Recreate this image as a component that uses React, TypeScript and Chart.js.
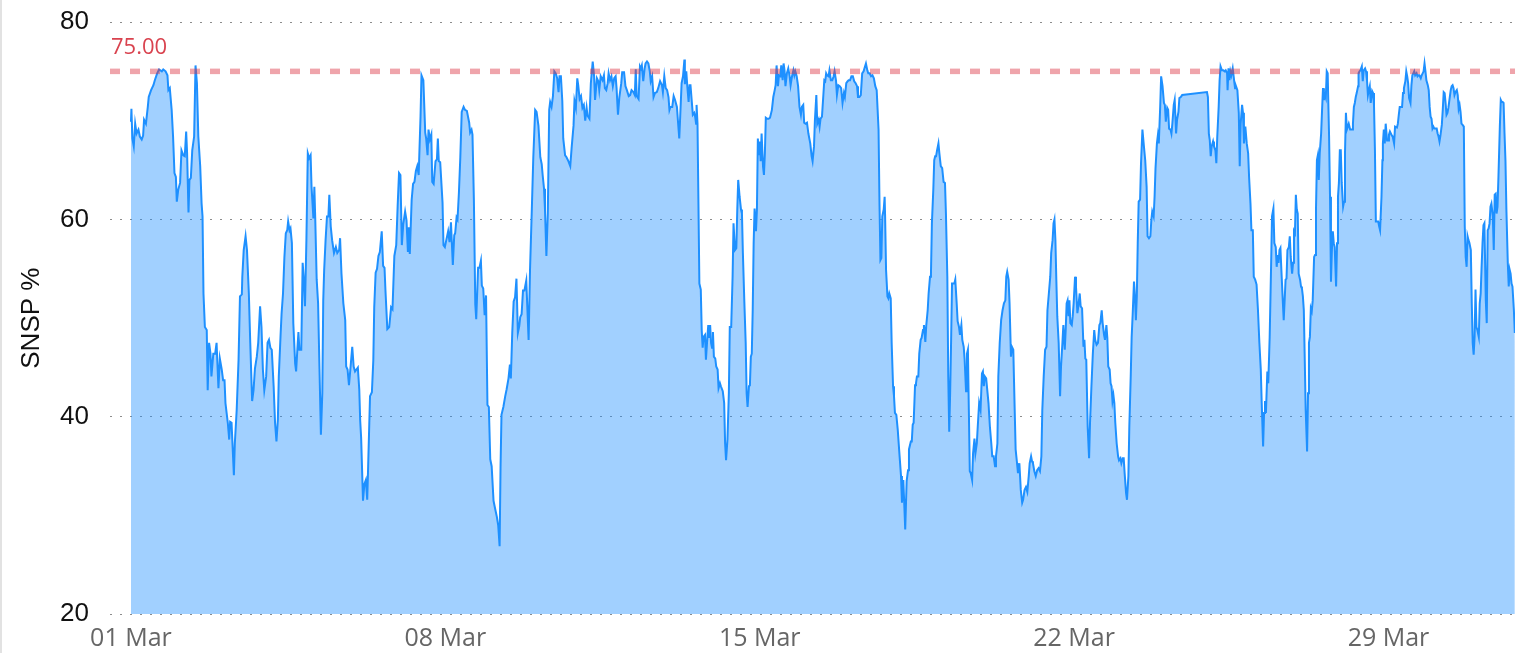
import React, { useEffect, useRef } from 'react';
import { Chart, registerables } from 'chart.js';

Chart.register(...registerables);

// x values are hours since 01 Mar 00:00
const X_MIN_HOURS = -11.2;
const X_MAX_HOURS = 739.6;
const TICK_HOURS = [0, 168, 336, 504, 672];
const TICK_LABELS = ['01 Mar', '08 Mar', '15 Mar', '22 Mar', '29 Mar'];
const Y_MIN = 20;
const Y_MAX = 80;
const Y_STEP = 20;
const THRESHOLD = 75;
const Y_TITLE = 'SNSP %';

// [hour, SNSP %]
const SNSP_READINGS: [number, number][] = [
  [0, 69.9], [0.25, 71.2], [0.75, 68.2], [1.5, 67.4], [2.25, 69.7], [3, 68.7], [4, 69.1], [4.75, 68.4], [5.75, 68.1], [6.5, 68.5],
  [7, 70.1], [8, 69.7], [9, 71.4], [9.5, 72.4], [10.75, 73.1], [12, 73.6], [12.75, 74.1], [14, 74.8], [15, 75.2], [16.5, 75.0],
  [17.25, 75.2], [18.5, 75.0], [19.5, 74.6], [20, 73.1], [20.75, 73.3], [21.75, 71.1], [22.5, 68.4], [23.25, 64.7], [24, 64.3], [24.5, 61.8],
  [25.25, 63.0], [26.25, 63.7], [27, 67.0], [28, 66.5], [28.75, 66.4], [29.5, 68.9], [30, 66.7], [30.75, 60.7], [31.25, 64.0], [32, 64.2],
  [32.75, 67.0], [33.75, 68.4], [34.5, 75.6], [35.25, 73.8], [36, 68.4], [37, 65.4], [37.75, 61.6], [38.25, 60.3], [38.75, 52.5], [39.5, 49.1],
  [40.5, 48.8], [41, 42.7], [41.75, 47.5], [42.5, 46.4], [43, 44.1], [44, 46.4], [45, 46.4], [45.75, 47.5], [46.75, 42.9], [47.5, 45.9],
  [48.5, 44.8], [49.25, 43.7], [50, 43.7], [50.5, 41.4], [51.75, 39.4], [52.5, 37.7], [53, 39.5], [53.75, 39.4], [55, 34.1], [55.5, 37.3],
  [56.5, 40.7], [57.5, 45.8], [58.25, 52.2], [59.25, 52.4], [59.5, 54.2], [60.25, 56.9], [61.25, 58.3], [62, 56.9], [63, 52.5], [63.75, 47.5],
  [64.75, 41.6], [65.5, 42.7], [66.25, 44.9], [67.25, 46.1], [68, 47.5], [69, 51.2], [69.75, 49.1], [70.5, 44.8], [71.25, 42.7], [72.25, 44.1],
  [73, 47.5], [73.75, 47.8], [74.5, 47.0], [75.25, 46.8], [76.25, 43.1], [77, 39.4], [77.75, 37.5], [78.5, 39.7], [79, 44.1], [80, 48.5],
  [80.5, 50.5], [81.25, 52.5], [82, 56.2], [82.75, 58.6], [83.5, 58.9], [84, 59.8], [84.75, 58.9], [85.25, 59.1], [86, 57.6], [86.75, 49.5],
  [87.75, 45.4], [88.25, 44.6], [89, 47.1], [89.5, 48.6], [90, 46.8], [91, 46.8], [91.75, 55.6], [92.25, 54.2], [93, 51.2], [93.75, 57.9],
  [94.5, 66.7], [95.25, 66.2], [96, 66.5], [96.5, 63.3], [97.5, 60.1], [98, 63.3], [98.5, 59.9], [99.25, 53.9], [100, 51.5], [100.75, 44.8],
  [101.5, 38.2], [102.25, 42.4], [102.75, 51.8], [103.25, 54.9], [104, 57.9], [104.75, 60.3], [105.5, 60.3], [106, 62.5], [106.75, 59.3], [107.5, 57.9],
  [108.5, 56.6], [109.5, 57.2], [110.25, 56.6], [111.25, 56.9], [111.75, 58.1], [112.5, 54.5], [113.5, 51.5], [114.5, 49.8], [115, 45.1], [115.75, 44.8],
  [116.5, 43.2], [117.5, 45.4], [118.25, 47.1], [119, 45.1], [119.75, 44.6], [120.5, 44.8],
  [121.25, 45.0], [122, 42.8], [122.5, 39.6], [123, 37.9], [124, 31.5], [124.75, 33.2], [125.5, 33.6], [126.25, 31.6], [126.75, 35.0], [127.75, 42.1],
  [128.75, 42.5], [129.5, 45.7], [130, 51.1], [130.75, 54.6], [131.5, 55.0], [132.25, 56.3], [133, 56.7], [134, 58.8], [134.75, 55.3], [135.5, 55.1],
  [136, 52.8], [137, 48.9], [138, 49.1], [139, 51.1], [139.75, 50.9], [140.75, 56.3], [141.75, 57.4], [142.5, 61.3], [143.25, 64.7], [144, 64.5],
  [144.75, 57.4], [145.5, 59.5], [146.5, 60.8], [147.25, 59.9], [148, 56.7], [148.5, 59.2], [149, 56.5], [150, 62.0], [150.75, 63.6], [151.5, 63.8],
  [152.25, 64.9], [153, 65.4], [153.75, 64.5], [154.75, 70.5], [155.25, 74.6], [156.25, 74.1], [157.25, 68.8], [157.75, 68.2], [158.5, 66.5], [159, 69.1],
  [159.75, 68.1], [160.5, 68.6], [161, 63.8], [161.75, 63.6], [162.75, 65.9], [163.5, 66.1], [164, 68.2], [164.5, 65.9], [165.25, 65.8], [166.5, 61.7],
  [167, 57.4], [167.75, 57.2], [168.5, 57.9], [169.5, 58.8], [170.25, 57.7], [171, 59.7], [172, 55.4], [172.75, 58.4], [173.25, 58.6], [174, 60.2],
  [174.5, 60.0], [175.25, 62.7], [176, 66.3], [176.75, 70.9], [177.75, 71.4], [178.5, 71.1], [179.5, 71.0], [180.75, 69.8], [181.25, 68.8], [182, 69.1],
  [182.5, 68.6], [183.25, 62.0], [184, 51.4], [184.5, 49.9], [185.5, 55.1], [186.25, 55.1], [187, 55.8], [187.5, 53.3], [188.25, 53.0], [189, 50.3],
  [189.75, 52.3], [190.5, 41.2], [191.25, 41.0], [192, 35.7], [192.75, 35.0], [193.75, 31.5], [194.5, 30.8], [195.5, 29.9], [196.25, 29.0], [197, 26.9],
  [197.5, 35.0], [198, 40.2], [199, 41.0], [200, 42.1], [200.75, 42.8], [201.75, 43.9], [202.5, 45.3], [203, 43.9], [203.75, 48.5], [204.5, 51.7],
  [205.25, 52.1], [206, 54.0], [206.75, 48.5], [207.5, 49.2], [208, 50.1], [208.75, 50.4], [209.5, 52.8], [210.25, 52.8], [211.25, 53.8], [212.5, 47.8],
  [213.25, 54.9], [214.25, 61.3], [215, 66.3], [216, 71.1], [216.75, 70.9], [217.75, 69.5], [218.75, 66.3], [219.5, 65.6], [220, 64.5], [220.75, 63.1],
  [221.25, 61.0], [222, 56.3], [222.75, 60.6], [223.5, 71.1], [224, 71.9], [224.75, 71.4], [225.5, 72.5], [226.25, 75.0], [227, 74.8], [227.75, 74.3],
  [228.5, 72.9], [229, 74.5], [229.75, 74.5], [230.5, 72.0], [231, 68.2], [232, 66.5], [232.75, 66.3], [233.75, 65.9], [234.75, 65.4], [235.5, 67.3],
  [236.5, 69.5], [237, 72.0], [237.75, 71.3], [238.5, 74.3], [239, 73.6], [239.75, 72.2], [240.5, 72.5], [241.25, 71.3], [242, 71.6], [242.75, 70.0],
  [243.5, 71.3], [244, 70.5], [245, 70.2],
  [245.75, 73.8], [246.75, 76.0], [247.5, 74.5], [248, 72.1], [249, 74.3], [249.75, 74.0], [250.25, 73.1], [251, 74.5], [252, 74.1], [252.75, 74.6],
  [253.25, 73.3], [254, 73.1], [254.75, 73.8], [255.25, 74.8], [256, 74.1], [256.75, 74.5], [257.5, 73.5], [258.25, 74.3], [259, 74.5], [259.5, 73.3],
  [260.25, 70.6], [261, 72.4], [262, 73.8], [262.5, 74.9], [263.5, 74.9], [264.25, 73.5], [265, 73.1], [266, 72.5], [266.75, 72.6], [267.5, 73.1],
  [268.5, 72.9], [269.25, 72.6], [269.75, 75.2], [270.25, 72.5], [271.25, 72.2], [272, 75.5], [272.5, 75.3], [273, 75.6], [273.75, 74.0], [274.5, 75.3],
  [275, 75.8], [275.75, 76.0], [276.5, 75.8], [277.25, 75.0], [277.75, 74.0], [278.5, 74.5], [279.25, 72.4], [280, 72.8], [281, 72.9], [281.75, 73.3],
  [282.75, 74.0], [283.75, 73.6], [284.25, 72.9], [285, 74.5], [285.75, 73.3], [286.5, 73.1], [287.25, 72.4], [287.75, 71.1], [288.25, 71.4], [289.25, 71.4],
  [290, 72.5], [290.75, 72.1], [291.75, 71.4], [292.25, 70.1], [293, 68.2], [293.5, 70.4], [294.25, 73.8], [295, 74.5], [295.75, 76.2], [296, 73.7],
  [296.75, 75.0], [297.25, 73.6], [298, 71.9], [298.5, 73.6], [299, 73.6], [299.75, 71.8], [300.25, 70.6], [301, 70.8], [301.5, 70.4], [302, 69.7],
  [302.25, 71.6], [302.75, 69.7], [303.25, 61.6], [303.75, 53.5], [304.5, 52.9], [305, 48.8], [305.5, 47.0], [306, 48.1], [306.75, 48.3], [307.25, 45.8],
  [308, 48.0], [308.5, 49.3], [309, 48.0], [309.5, 49.3], [310, 47.5], [310.5, 47.0], [311, 48.6], [311.5, 46.1], [312.25, 45.9], [312.75, 45.1],
  [313.5, 44.8], [314, 42.9], [314.75, 43.4], [315.25, 43.1], [316.25, 42.6], [317, 41.4], [317.5, 37.3], [318, 35.6], [318.75, 37.7], [319.5, 42.4],
  [320, 49.1], [320.75, 49.1], [321.5, 54.2], [322, 59.6], [322.75, 56.9], [323.5, 57.1], [324, 61.0], [324.5, 64.0], [325.25, 62.3], [326, 61.0],
  [326.5, 60.6], [327, 56.6], [327.75, 51.8], [328.5, 47.5], [329, 42.4], [329.5, 41.0], [330.25, 43.1], [330.75, 43.2], [331.25, 46.1], [331.75, 46.4],
  [332.25, 50.8], [332.75, 57.6], [333.25, 61.1], [334, 58.8], [334.5, 61.0], [335, 68.2], [335.5, 66.5], [336, 67.9], [336.5, 65.9], [337, 68.7],
  [337.75, 65.4], [338.25, 64.5], [338.75, 66.7], [339.25, 70.3], [340, 70.2], [340.75, 70.2], [341.5, 70.3], [342.5, 71.1], [343.25, 72.4], [344, 73.1],
  [344.5, 73.6], [345, 75.6], [345.75, 73.5], [346.25, 74.6], [347, 74.5], [347.5, 75.6], [348.25, 74.1], [348.75, 75.8], [349.25, 75.1], [349.75, 73.5],
  [350.5, 74.8], [351.25, 75.3], [352, 74.5], [352.5, 73.6], [353.25, 74.5], [354, 75.1], [354.5, 74.6], [355, 75.0], [355.75, 74.5], [356.5, 73.5],
  [357.25, 71.4], [358, 70.6], [358.5, 71.4], [359.25, 71.6], [359.75, 69.8], [360.5, 69.7], [361.25, 69.8], [362, 68.7], [363, 67.7], [363.75, 66.4],
  [364.25, 65.9], [365, 67.4], [365.5, 70.1], [366.25, 72.6], [366.75, 69.7], [367.5, 70.1], [368, 69.4],
  [368.5, 70.2], [369.25, 70.4], [370, 72.6], [370.5, 74.1], [371, 74.0], [371.5, 74.8], [372, 74.6], [372.75, 74.5], [373.25, 75.1], [374, 74.1],
  [374.75, 74.1], [375.5, 74.5], [376, 75.0], [376.75, 74.1], [377.25, 72.6], [378, 73.6], [378.75, 73.5], [379.5, 73.3], [380.25, 71.8], [381, 72.8],
  [381.5, 72.4], [382.25, 73.8], [383, 74.0], [383.5, 74.1], [384.25, 74.1], [385, 74.5], [385.75, 74.5], [386.5, 74.0], [387.25, 73.8], [388, 73.5],
  [388.5, 72.4], [389.25, 72.4], [390, 72.6], [390.75, 74.8], [391.5, 75.0], [392.25, 75.5], [392.75, 75.8], [393.5, 75.1], [394, 74.8], [394.75, 74.8],
  [395.5, 74.5], [396.25, 74.6], [397, 74.3], [397.75, 73.5], [398.5, 73.1], [399, 71.1], [399.5, 69.1], [400, 61.6], [400.5, 55.9], [401, 56.1],
  [401.5, 60.3], [402.25, 61.0], [402.75, 62.3], [403, 60.3], [403.5, 54.9], [404.25, 52.2], [404.75, 52.0], [405.25, 52.5], [406, 52.0], [406.5, 47.5],
  [407.25, 43.1], [407.75, 42.1], [408.25, 40.4], [409, 40.2], [409.75, 38.7], [410.75, 36.0], [411.5, 34.0], [412, 31.3], [412.75, 33.6], [413.25, 31.1],
  [413.75, 28.6], [414.5, 33.5], [415.25, 34.6], [415.75, 36.7], [416.75, 37.5], [417.25, 37.5], [417.75, 39.2], [418.25, 39.4], [419, 43.2], [419.5, 43.4],
  [420, 44.1], [420.75, 44.1], [421.25, 46.4], [422, 47.8], [422.5, 48.0], [423.25, 48.8], [423.75, 49.3], [424.5, 47.6], [425, 49.3], [425.75, 50.8],
  [426.25, 52.5], [427, 54.2], [427.5, 54.5], [428, 59.6], [428.75, 63.0], [429.25, 66.0], [429.75, 66.4], [430.25, 66.4], [430.75, 67.0], [431.5, 67.7],
  [432, 66.7], [432.75, 65.4], [433.5, 65.2], [434.25, 63.8], [435, 63.7], [435.5, 60.6], [436.25, 54.2], [436.75, 44.1], [437.25, 38.5], [437.75, 42.4],
  [438.25, 47.5], [438.75, 53.5], [439.25, 53.5], [440, 53.5], [440.5, 53.9], [441.25, 51.5], [441.75, 49.7], [442.5, 49.1], [443, 48.3], [443.75, 49.3],
  [444.25, 47.8], [445, 47.1], [445.5, 45.8], [446.25, 42.6], [446.75, 46.4], [447.25, 46.8], [447.75, 40.7], [448.25, 34.5], [448.75, 34.3], [449.5, 33.6],
  [450, 36.3], [450.75, 37.8], [451.25, 36.3], [452, 37.3], [452.5, 39.0], [453.25, 41.4], [454, 40.7], [454.75, 44.4], [455.25, 44.6], [455.75, 43.1],
  [456.25, 44.1], [457, 43.9], [457.75, 42.4], [458.25, 41.4], [459, 39.0], [459.75, 37.3], [460.25, 36.0], [461, 36.0], [461.75, 35.0], [462.25, 36.0],
  [463, 37.3], [463.5, 44.1], [464.25, 47.5], [465, 49.8], [465.75, 50.8], [466.5, 51.5], [467.25, 51.8], [467.75, 54.2], [468.25, 54.7], [469, 53.9],
  [469.5, 51.5], [470.25, 46.1], [470.75, 47.1], [471.5, 46.8], [472.25, 40.7], [472.75, 36.7], [473.5, 35.3], [474, 34.3], [474.75, 35.3], [475.5, 32.6],
  [476.25, 31.3], [476.75, 31.6], [477.5, 32.6], [478.25, 32.9], [479, 32.4], [479.75, 34.0], [480.25, 35.3], [481, 36.0], [481.5, 35.5], [482, 35.3],
  [482.75, 34.5], [483.5, 34.0], [484.25, 34.6], [485, 34.8], [485.75, 34.5], [486.5, 36.0], [487, 40.7], [487.75, 44.1], [488.5, 46.8], [489.25, 47.1],
  [489.75, 50.8], [490.5, 52.5], [491.25, 54.2],
  [491.75, 56.6], [492.5, 57.9], [493, 59.6], [493.5, 60.0], [494, 57.9], [494.5, 53.9], [495, 50.2], [495.75, 47.5], [496.5, 42.1], [497, 45.1],
  [497.75, 47.5], [498.25, 49.3], [499, 46.8], [499.5, 48.8], [500, 51.5], [500.5, 51.8], [501, 50.2], [501.5, 51.8], [502, 49.5], [502.75, 49.3],
  [503.25, 50.2], [503.75, 51.5], [504.5, 54.2], [505, 53.2], [505.75, 50.5], [506.25, 51.2], [507, 52.5], [507.5, 51.2], [508.25, 51.0], [509, 47.1],
  [509.5, 47.8], [510, 45.9], [510.5, 45.8], [511.25, 39.0], [512, 35.8], [512.5, 39.4], [513.25, 43.1], [514, 46.4], [514.75, 48.8], [515.25, 47.8],
  [516, 47.3], [516.75, 47.5], [517.5, 49.3], [518, 49.5], [518.75, 50.8], [519.25, 49.5], [520, 48.3], [520.5, 47.8], [521.25, 49.3], [521.75, 48.0],
  [522.25, 45.1], [523, 44.8], [523.5, 43.4], [524, 43.1], [524.5, 41.6], [525, 42.2], [525.5, 41.4], [526, 39.4], [526.75, 37.3], [527.5, 36.0],
  [528, 35.6], [528.75, 35.8], [529.25, 35.3], [530, 35.8], [530.5, 35.8], [531, 34.3], [531.75, 32.3], [532.25, 31.6], [533, 34.0], [533.5, 39.0],
  [534.25, 44.1], [534.75, 48.1], [535.25, 50.2], [536, 53.7], [536.5, 52.2], [537, 49.8], [537.5, 52.2], [538, 57.6], [538.5, 61.8], [539.25, 62.0],
  [539.75, 65.7], [540.5, 69.1], [541.25, 67.5], [542, 66.0], [542.75, 63.3], [543.25, 58.3], [544, 58.1], [544.75, 58.3], [545.25, 59.9], [545.75, 60.8],
  [546.5, 60.3], [547, 62.3], [547.5, 65.2], [548.25, 67.7], [548.75, 68.5], [549.25, 67.7], [550, 71.4], [550.5, 74.5], [551.25, 73.5], [552, 71.8],
  [552.5, 71.6], [553, 69.9], [553.75, 71.3], [554.25, 71.1], [554.75, 69.2], [555.5, 69.1], [556, 68.7], [556.5, 69.7], [557.25, 71.6], [557.75, 72.1],
  [558.5, 68.7], [559, 70.1], [559.75, 70.9], [560.25, 72.3], [561, 72.4], [561.75, 72.6], [575, 72.9], [575.5, 72.4], [576, 68.7], [576.5, 68.0],
  [577, 66.4], [577.5, 67.4], [578.25, 67.9], [578.75, 67.4], [579.5, 67.0], [580, 65.7], [580.5, 68.4], [581.25, 71.4], [581.75, 74.1], [582.25, 75.5],
  [583, 75.1], [583.75, 75.1], [584.5, 75.0], [585, 75.1], [585.75, 74.8], [586, 73.1], [586.5, 75.3], [587, 74.1], [587.5, 75.0], [588, 74.6],
  [588.75, 75.3], [589.25, 74.5], [590, 73.3], [590.5, 73.5], [591.25, 73.1], [592, 70.8], [592.5, 65.4], [593, 69.7], [593.75, 71.6], [594.25, 70.8],
  [594.75, 67.7], [595.5, 69.4], [596.25, 67.7], [597, 66.7], [597.5, 64.3], [598.25, 61.6], [598.75, 58.9], [599.5, 58.9], [600, 54.2], [600.75, 53.9],
  [601.5, 53.4], [602.25, 50.8], [603, 47.5], [603.75, 44.8], [604.25, 41.4], [605, 37.0], [605.5, 40.4], [606, 41.6], [606.5, 40.4], [607.25, 44.6],
  [607.75, 43.4], [608.5, 48.1], [609.25, 55.2], [609.75, 60.3], [610.5, 61.1], [611, 57.6], [611.75, 57.2], [612.25, 55.2], [612.75, 56.4], [613.25, 55.6],
  [613.75, 56.9],
  [614.25, 57.1], [614.75, 54.9], [615.5, 51.8], [616, 49.8], [616.5, 51.8], [617, 53.9], [617.5, 54.0], [618, 56.9], [618.75, 57.2], [619.25, 58.3],
  [619.75, 56.2], [620.5, 54.5], [621, 55.6], [621.5, 58.8], [622, 58.6], [622.5, 62.5], [623, 61.0], [623.5, 60.6], [624, 54.5], [624.75, 53.9],
  [625.25, 53.2], [625.75, 53.0], [626.25, 52.2], [626.75, 50.8], [627.25, 45.8], [627.75, 40.7], [628.5, 36.5], [629, 42.4], [629.5, 47.5], [630, 48.1],
  [630.5, 51.0], [631, 50.7], [631.5, 51.8], [632.25, 56.2], [632.75, 56.4], [633.25, 61.0], [633.75, 66.0], [634.25, 66.5], [634.75, 64.0], [635.25, 66.7],
  [636, 68.7], [636.5, 71.1], [637, 73.3], [637.5, 72.1], [638, 72.6], [638.5, 72.3], [639, 75.0], [639.5, 74.8], [640.25, 68.4], [640.75, 62.3],
  [641.25, 53.7], [641.75, 56.9], [642.25, 58.8], [642.75, 57.6], [643.25, 57.2], [644, 53.2], [644.5, 57.6], [645, 62.3], [645.5, 63.7], [646, 67.0],
  [646.5, 67.0], [647, 63.7], [647.75, 61.3], [648.25, 61.8], [648.75, 66.7], [649.25, 70.8], [649.75, 69.1], [650.25, 69.4], [650.75, 69.7], [651.5, 69.1],
  [652, 69.1], [652.5, 69.1], [653, 69.7], [653.5, 71.4], [654, 71.8], [654.5, 72.4], [655, 72.8], [655.75, 73.5], [656, 74.8], [656.5, 75.0],
  [657, 75.1], [657.75, 75.5], [658.25, 74.0], [658.75, 75.1], [659.5, 75.3], [660, 75.0], [660.5, 74.1], [661, 72.6], [661.5, 73.1], [662, 73.5],
  [662.5, 71.8], [663.25, 73.0], [663.75, 72.8], [664.25, 71.6], [664.75, 67.0], [665.25, 59.8], [666, 59.8], [666.5, 59.8], [667, 59.3], [667.5, 58.9],
  [668.25, 62.3], [668.75, 66.0], [669, 67.7], [669.5, 69.1], [670, 67.7], [670.5, 69.7], [671.25, 68.0], [671.75, 68.0], [672.25, 68.6], [672.75, 68.9],
  [673.25, 68.7], [673.75, 68.5], [674.25, 68.4], [675, 67.7], [675.5, 69.4], [676, 69.4], [676.5, 69.3], [677, 69.7], [677.5, 70.6], [678, 71.4],
  [678.75, 71.4], [679.25, 71.4], [679.75, 72.8], [680.25, 73.3], [681, 74.0], [681.5, 75.0], [682, 74.5], [682.5, 73.8], [683, 72.3], [683.75, 71.8],
  [684.25, 73.6], [684.75, 74.6], [685.25, 74.8], [685.75, 75.0], [686.25, 74.6], [687, 74.8], [687.5, 74.5], [688, 74.6], [688.5, 74.6], [689.25, 74.3],
  [689.75, 74.6], [690.25, 74.8], [690.75, 75.0], [691.25, 75.8], [691.75, 75.0], [692.25, 74.1], [693, 73.6], [693.5, 73.1], [694, 71.4], [694.5, 70.4],
  [695, 70.2], [695.5, 69.2], [696, 69.4], [696.5, 69.2], [697.25, 69.2], [697.75, 69.2], [698.25, 68.7], [698.75, 68.4], [699.25, 67.9], [699.75, 68.5],
  [700.5, 69.6], [701, 71.1], [701.5, 72.9], [702, 72.8], [702.5, 71.8], [703, 70.6], [703.5, 70.8], [704, 71.3], [704.75, 72.4], [705.25, 73.1],
  [705.75, 73.5], [706.25, 73.6], [706.75, 73.3], [707.25, 72.6], [707.75, 72.9], [708.5, 73.1], [709, 72.6], [709.5, 71.2], [710, 71.6], [710.5, 70.9],
  [711, 69.7], [711.5, 69.6], [712.25, 69.4], [712.75, 59.3], [713.25, 56.2], [713.75, 55.2], [714.25, 58.3], [714.75, 57.9], [715.25, 57.6], [716, 56.9],
  [716.5, 51.5], [717, 47.5], [717.5, 46.3], [718, 48.1], [718.5, 52.9], [719, 49.1], [719.5, 48.8], [720.25, 48.1], [720.75, 51.5], [721.25, 52.5],
  [721.75, 55.2], [722.25, 57.6], [722.75, 59.4], [723.25, 59.6], [724, 51.8], [724.5, 49.5], [725, 58.9], [725.5, 59.1], [726, 59.6], [726.5, 61.3],
  [727, 61.6], [727.75, 60.3], [728.25, 56.9], [728.75, 62.5], [729.25, 62.6], [729.75, 60.6], [730.25, 61.3], [730.75, 64.3], [731.5, 69.4], [732, 72.1],
  [732.5, 71.9], [733, 71.9], [733.5, 71.8], [734, 68.7], [734.5, 66.0], [735, 61.0], [735.75, 55.6], [736.25, 53.2], [736.75, 54.9], [737.25, 54.5],
  [737.75, 53.5], [738.25, 53.2], [739, 50.8], [739.5, 48.5],
];

export default function App() {
  const canvasRef = useRef<HTMLCanvasElement>(null);

  useEffect(() => {
    document.body.style.margin = '0';
    const canvas = canvasRef.current;
    if (!canvas) return;

    const thresholdLabel = {
      id: 'thresholdLabel',
      afterDatasetsDraw(chart: any) {
        const { ctx, chartArea, scales } = chart;
        const y = scales.y.getPixelForValue(THRESHOLD);
        ctx.save();
        ctx.font = '22px "Open Sans", "Noto Sans", sans-serif';
        ctx.fillStyle = '#d9434f';
        ctx.textAlign = 'left';
        ctx.textBaseline = 'alphabetic';
        ctx.fillText(THRESHOLD.toFixed(2), chartArea.left + 1, y - 17);
        ctx.restore();
      },
    };

    const chart = new Chart(canvas, {
      type: 'line',
      data: {
        datasets: [
          {
            label: 'Threshold',
            data: [
              { x: X_MIN_HOURS, y: THRESHOLD },
              { x: X_MAX_HOURS, y: THRESHOLD },
            ],
            borderColor: 'rgba(220,53,69,0.45)',
            borderWidth: 5.5,
            borderDash: [10, 10],
            borderCapStyle: 'butt',
            pointRadius: 0,
            fill: false,
            order: 0,
          },
          {
            label: 'SNSP',
            data: SNSP_READINGS.map(([h, v]) => ({ x: h, y: v })),
            borderColor: 'rgb(30,144,255)',
            backgroundColor: 'rgba(30,144,255,0.42)',
            borderWidth: 2,
            pointRadius: 0,
            fill: 'start',
            tension: 0,
            order: 1,
          },
        ],
      },
      options: {
        animation: false,
        responsive: false,
        layout: { padding: { top: 22, left: 0, right: 0, bottom: 0 } },
        plugins: {
          legend: { display: false },
          tooltip: { enabled: false },
        },
        scales: {
          x: {
            type: 'linear',
            min: X_MIN_HOURS,
            max: X_MAX_HOURS,
            afterBuildTicks: (scale: any) => {
              scale.ticks = TICK_HOURS.map((v) => ({ value: v }));
            },
            afterFit: (scale: any) => {
              scale.height = 38.7;
            },
            ticks: {
              autoSkip: false,
              maxRotation: 0,
              minRotation: 0,
              padding: 10,
              color: '#666666',
              font: { family: '"Open Sans", "Noto Sans", sans-serif', size: 25 },
              callback: (value: any) => {
                const i = TICK_HOURS.indexOf(Number(value));
                return i >= 0 ? TICK_LABELS[i] : '';
              },
            },
            grid: { display: false, drawTicks: false },
            border: { display: false },
          },
          y: {
            min: Y_MIN,
            max: Y_MAX,
            afterFit: (scale: any) => {
              scale.width = 108;
              scale.paddingTop = 0;
              scale.paddingBottom = 0;
            },
            ticks: {
              stepSize: Y_STEP,
              padding: 21,
              color: '#111111',
              font: { family: '"Liberation Sans", Arial, sans-serif', size: 26 },
            },
            grid: { color: '#8c8c8c', lineWidth: 1, drawTicks: false },
            border: { display: false, dash: [2, 8] },
            title: {
              display: true,
              text: Y_TITLE,
              color: '#111111',
              font: { family: '"Liberation Sans", Arial, sans-serif', size: 26 },
              padding: { top: 14.6, bottom: 0 },
            },
          },
        },
      },
      plugins: [thresholdLabel],
    } as any);

    return () => chart.destroy();
  }, []);

  return (
    <div
      style={{
        width: 1515,
        height: 653,
        borderLeft: '2px solid #e2e2e2',
        boxSizing: 'border-box',
        overflow: 'hidden',
        background: '#ffffff',
      }}
    >
      <canvas ref={canvasRef} width={1513} height={653} style={{ display: 'block' }} />
    </div>
  );
}
